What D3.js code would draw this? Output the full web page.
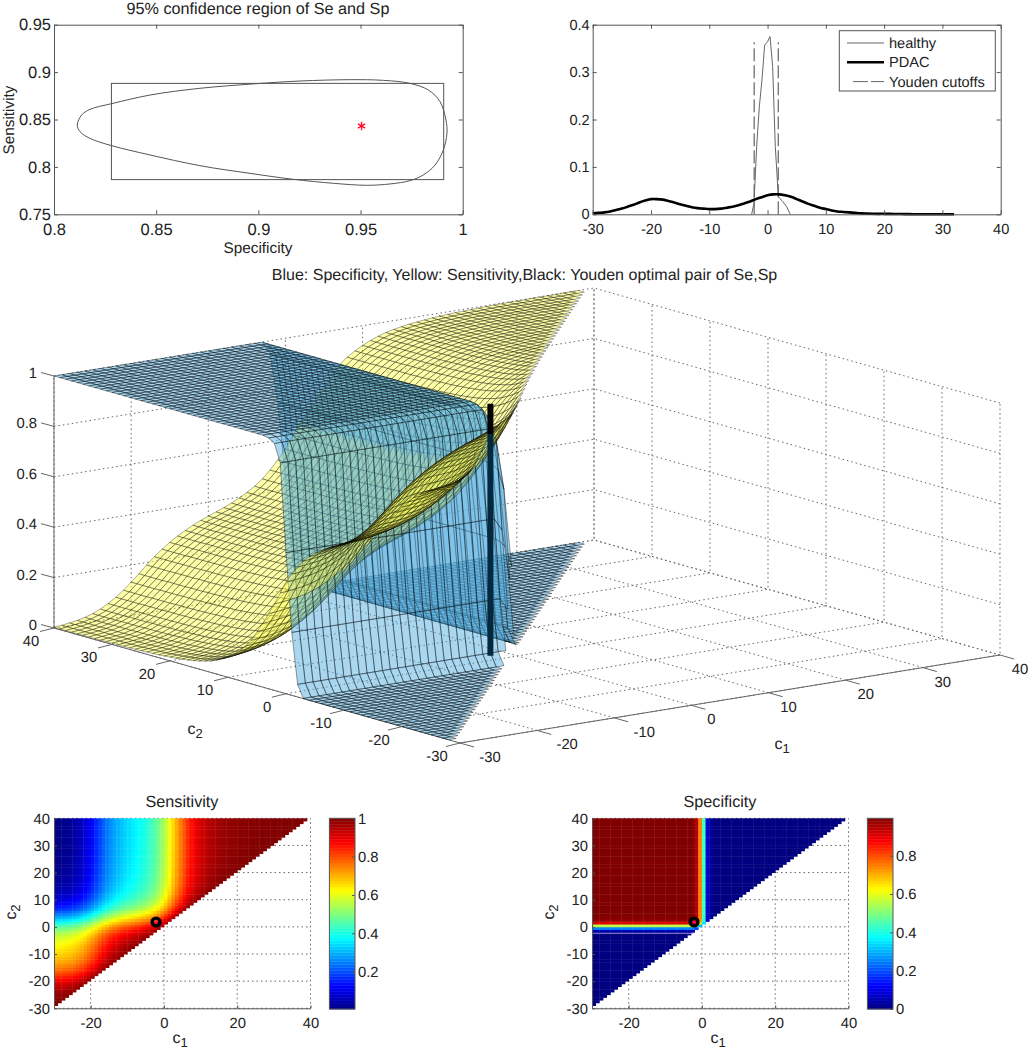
<!DOCTYPE html>
<html>
<head>
<meta charset="utf-8">
<script src="https://cdn.jsdelivr.net/npm/d3@7"></script>
<style>
    html, body { margin: 0; padding: 0; background: #fff; }
    text { font-family: 'Liberation Sans', Arial, sans-serif; fill: #222; text-rendering: geometricPrecision; }
    .domain, .tick line { stroke: #555; }
    .tick text { fill: #222; }
    .dotted { stroke: #666; stroke-width: 1; stroke-dasharray: 1.5 3; fill: none; }
</style>
</head>
<body>
<div class="visualisation"></div>
<script>
const svgWidth = 1032;
const svgHeight = 1050;

// confidence region, [specificity, sensitivity]
const regionSp = [0.8114, 0.8135, 0.8176, 0.8282, 0.847, 0.8714, 0.8992, 0.9204, 0.9449, 0.9612, 0.9742, 0.9832, 0.9889, 0.9918, 0.9923, 0.9905, 0.9865, 0.9807, 0.9742, 0.9644, 0.953, 0.9367, 0.9171, 0.8959, 0.8714, 0.847, 0.8282, 0.8176, 0.8127];
const regionSe = [0.8442, 0.8547, 0.8607, 0.8667, 0.8758, 0.8829, 0.8878, 0.8906, 0.892, 0.8913, 0.8881, 0.8811, 0.8688, 0.8495, 0.8354, 0.8178, 0.802, 0.7915, 0.7855, 0.782, 0.7806, 0.7827, 0.7869, 0.7932, 0.8013, 0.8126, 0.8224, 0.8301, 0.8372];
const boxSp = [0.8281, 0.9907];
const boxSe = [0.7866, 0.8881];
const pointSp = 0.9505;
const pointSe = 0.8432;

// densities
const healthyX = [-2.73, -2.33, -1.87, -1.41, -0.96, -0.5, 0, 0.42, 0.87, 1.33, 1.85, 2.6, 3.28, 3.9];
const healthyY = [0, 0.023, 0.143, 0.227, 0.283, 0.357, 0.364, 0.375, 0.312, 0.143, 0.037, 0.027, 0.016, 0];
const pdacX = d3.range(-30, 33);
const pdacY = [0.002, 0.003, 0.004, 0.006, 0.009, 0.012, 0.016, 0.02, 0.025, 0.029, 0.032, 0.032, 0.031, 0.028, 0.025, 0.021, 0.018, 0.015, 0.013, 0.012, 0.011, 0.011, 0.012, 0.014, 0.016, 0.019, 0.023, 0.027, 0.032, 0.036, 0.04, 0.042, 0.042, 0.04, 0.037, 0.032, 0.027, 0.022, 0.018, 0.014, 0.011, 0.008, 0.006, 0.005, 0.004, 0.003, 0.002, 0.0015, 0.0012, 0.001, 0.001, 0.0008, 0.0007, 0.0005, 0.0004, 0.0002, 0.0002, 0.0001, 0.0001, 0.0001, 0.0001, 0.0001, 0];
const cutoffs = [-2.3, 1.83];
const cutoffTop = 0.363;

// cumulative shares at c = -30..40
const cutGrid = d3.range(-30, 41);
const pdacCdf = [0.003, 0.006, 0.01, 0.015, 0.022, 0.032, 0.045, 0.062, 0.082, 0.105, 0.132, 0.16, 0.19, 0.218, 0.243, 0.265, 0.285, 0.302, 0.318, 0.332, 0.344, 0.356, 0.368, 0.381, 0.396, 0.413, 0.433, 0.457, 0.487, 0.522, 0.56, 0.61, 0.66, 0.705, 0.75, 0.79, 0.83, 0.86, 0.885, 0.905, 0.922, 0.936, 0.948, 0.958, 0.965, 0.971, 0.976, 0.98, 0.983, 0.986, 0.988, 0.99, 0.992, 0.993, 0.994, 0.995, 0.996, 0.997, 0.997, 0.998, 0.998, 0.998, 0.999, 0.999, 0.999, 0.999, 1, 1, 1, 1, 1];
const healthyCdf = [0, 0, 0, 0, 0, 0, 0, 0, 0, 0, 0, 0, 0, 0, 0, 0, 0, 0, 0, 0, 0, 0, 0, 0, 0, 0, 0, 0.001, 0.05, 0.25, 0.56, 0.91, 0.98, 0.995, 1, 1, 1, 1, 1, 1, 1, 1, 1, 1, 1, 1, 1, 1, 1, 1, 1, 1, 1, 1, 1, 1, 1, 1, 1, 1, 1, 1, 1, 1, 1, 1, 1, 1, 1, 1, 1];
const optimalC1 = -2.15;
const optimalC2 = 1.8;

// tick labels
const regionXTicks = [0.8, 0.85, 0.9, 0.95, 1];
const regionYTicks = [0.75, 0.8, 0.85, 0.9, 0.95];
const densityXTicks = [-30, -20, -10, 0, 10, 20, 30, 40];
const densityYTicks = [0, 0.1, 0.2, 0.3, 0.4];
const cutTicks = [-30, -20, -10, 0, 10, 20, 30, 40];
const zTicks = [0, 0.2, 0.4, 0.6, 0.8, 1];
const mapXTicks = [-20, 0, 20, 40];
const mapYTicks = [-30, -20, -10, 0, 10, 20, 30, 40];
const seBarTicks = [0.2, 0.4, 0.6, 0.8, 1];
const spBarTicks = [0, 0.2, 0.4, 0.6, 0.8];

// jet colormap
const jet = d3.scaleLinear()
    .domain([0, 0.125, 0.375, 0.625, 0.875, 1])
    .range(['#000080', '#0000ff', '#00ffff', '#ffff00', '#ff0000', '#800000'])
    .clamp(true);

const sensitivity = (i, j) => Math.min(1, 1 - (pdacCdf[j] - pdacCdf[i]));
const specificity = (i, j) => Math.max(0, healthyCdf[j] - healthyCdf[i]);

const svg = d3
    .select('.visualisation')
    .append('svg')
    .attr('width', svgWidth)
    .attr('height', svgHeight)
    .attr('viewBox', `0 0 ${svgWidth} ${svgHeight}`)
    .style('display', 'block');

// framed 2d axes with inward ticks
function frame(g, x, y, xTicks, yTicks, fontSize, padX) {
    const [x0, x1] = x.range();
    const [y0, y1] = y.range();
    const fmt = (d) => `${d}`;
    g.append('g').attr('transform', `translate(0,${y0})`)
        .call(d3.axisBottom(x).tickValues(xTicks).tickSize(-4).tickSizeOuter(0).tickPadding(padX).tickFormat(fmt));
    g.append('g').attr('transform', `translate(${x0},0)`)
        .call(d3.axisLeft(y).tickValues(yTicks).tickSize(-4).tickSizeOuter(0).tickPadding(3).tickFormat(fmt));
    g.append('g').attr('transform', `translate(0,${y1})`)
        .call(d3.axisTop(x).tickValues(xTicks).tickSize(-4).tickSizeOuter(0).tickFormat(''));
    g.append('g').attr('transform', `translate(${x1},0)`)
        .call(d3.axisRight(y).tickValues(yTicks).tickSize(-4).tickSizeOuter(0).tickFormat(''));
    g.selectAll('.tick text').attr('font-size', fontSize).attr('font-family', "'Liberation Sans', Arial, sans-serif");
}

function label(x, y, txt, size, rotate) {
    const t = svg.append('text')
        .attr('text-anchor', 'middle')
        .attr('font-size', size)
        .attr('transform', `translate(${x},${y})${rotate ? ' rotate(-90)' : ''}`)
        .text(txt);
    return t;
}

// c with a subscript
function subLabel(x, y, sub, size, rotate) {
    const t = label(x, y, 'c', size, rotate);
    t.append('tspan').attr('dy', 4).attr('font-size', size - 3).text(sub);
    return t;
}

// ---- confidence region ----
const regionGroup = svg.append('g');
const xRegion = d3.scaleLinear().domain([0.8, 1]).range([54, 462.7]);
const yRegion = d3.scaleLinear().domain([0.75, 0.95]).range([214.3, 24.7]);

regionGroup.append('rect')
    .attr('x', xRegion(boxSp[0]))
    .attr('y', yRegion(boxSe[1]))
    .attr('width', xRegion(boxSp[1]) - xRegion(boxSp[0]))
    .attr('height', yRegion(boxSe[0]) - yRegion(boxSe[1]))
    .attr('fill', 'none')
    .attr('stroke', '#555');

regionGroup.append('path')
    .attr('d', d3.line().x((d) => xRegion(d)).y((d, i) => yRegion(regionSe[i])).curve(d3.curveCatmullRomClosed)(regionSp))
    .attr('fill', 'none')
    .attr('stroke', '#555');

regionGroup.append('path')
    .attr('d', d3.symbol(d3.symbolAsterisk, 50)())
    .attr('transform', `translate(${xRegion(pointSp)},${yRegion(pointSe)})`)
    .attr('stroke', '#ff0a28')
    .attr('stroke-width', 1.3)
    .attr('fill', 'none');

frame(regionGroup, xRegion, yRegion, regionXTicks, regionYTicks, 16.5, 9);
label(258, 14, '95% confidence region of Se and Sp', 16.2);
label(258, 253, 'Specificity', 15.3);
label(14, 120, 'Sensitivity', 15.3, true);

// ---- densities ----
const densityGroup = svg.append('g');
const xDensity = d3.scaleLinear().domain([-30, 40]).range([592.7, 1000.7]);
const yDensity = d3.scaleLinear().domain([0, 0.4]).range([214.3, 24.7]);
const densityLine = d3.line().x((d) => xDensity(d[0])).y((d) => yDensity(d[1]));

cutoffs.forEach((c) => {
    densityGroup.append('line')
        .attr('x1', xDensity(c)).attr('x2', xDensity(c))
        .attr('y1', yDensity(0)).attr('y2', yDensity(cutoffTop))
        .attr('stroke', '#444')
        .attr('stroke-dasharray', '13 4');
});

densityGroup.append('path')
    .attr('d', densityLine(d3.zip(healthyX, healthyY)))
    .attr('fill', 'none')
    .attr('stroke', '#666');

densityGroup.append('path')
    .attr('d', densityLine.curve(d3.curveCatmullRom)(d3.zip(pdacX, pdacY)))
    .attr('fill', 'none')
    .attr('stroke', '#000')
    .attr('stroke-width', 2.6);

frame(densityGroup, xDensity, yDensity, densityXTicks, densityYTicks, 14.6, 9);

const legendGroup = densityGroup.append('g');
legendGroup.append('rect')
    .attr('x', 839.3).attr('y', 30.7).attr('width', 156).attr('height', 60.3)
    .attr('fill', '#fff').attr('stroke', '#555');
const legendNames = ['healthy', 'PDAC', 'Youden cutoffs'];
const legendStroke = ['#666', '#000', '#666'];
const legendWidth = [1, 2.6, 1];
const legendDash = [null, null, '15 3'];
const legendRow = legendGroup.selectAll('g').data(legendNames).join('g')
    .attr('transform', (d, i) => `translate(0,${43 + i * 19.3})`);
legendRow.append('line')
    .attr('x1', (d, i) => (i === 2 ? 853 : 847)).attr('x2', 884)
    .attr('stroke', (d, i) => legendStroke[i])
    .attr('stroke-width', (d, i) => legendWidth[i])
    .attr('stroke-dasharray', (d, i) => legendDash[i]);
legendRow.append('text')
    .attr('x', 889).attr('y', 5)
    .attr('font-size', 14.6)
    .text((d) => d);

// ---- 3d surfaces ----
const c1ToX = d3.scaleLinear().domain([-30, 40]).range([0, 540]);
const c1ToY = d3.scaleLinear().domain([-30, 40]).range([0, -88]);
const c2ToX = d3.scaleLinear().domain([-30, 40]).range([460, 54]);
const c2ToY = d3.scaleLinear().domain([-30, 40]).range([743, 628]);
const zToY = d3.scaleLinear().domain([0, 1]).range([0, -252]);
const project = (c1, c2, z) => [c1ToX(c1) + c2ToX(c2), c1ToY(c1) + c2ToY(c2) + zToY(z)];

const grid3d = svg.append('g');

// z lines round the two back walls
zTicks.forEach((z) => {
    grid3d.append('path').attr('class', 'dotted')
        .attr('d', d3.line()([project(-30, 40, z), project(40, 40, z), project(40, -30, z)]));
});
cutTicks.forEach((c) => {
    grid3d.append('path').attr('class', 'dotted')
        .attr('d', d3.line()([project(c, -30, 0), project(c, 40, 0), project(c, 40, 1)]));
    grid3d.append('path').attr('class', 'dotted')
        .attr('d', d3.line()([project(-30, c, 0), project(40, c, 0), project(40, c, 1)]));
});

// box edges and ticks
const axisColor = '#666';
const axisLine = (a, b) => grid3d.append('line')
    .attr('x1', a[0]).attr('y1', a[1]).attr('x2', b[0]).attr('y2', b[1])
    .attr('stroke', axisColor);
axisLine(project(-30, 40, 0), project(-30, 40, 1));
axisLine(project(-30, 40, 0), project(-30, -30, 0));
axisLine(project(-30, -30, 0), project(40, -30, 0));

const faces = [];
const addFaces = (value, fill, opacity, edge, edgeWidth, bias) => {
    cutGrid.forEach((c1, i) => {
        cutGrid.forEach((c2, j) => {
            if (i >= cutGrid.length - 1 || j >= cutGrid.length - 1 || j < i + 2) return;
            const corners = [[i, j], [i + 1, j], [i + 1, j + 1], [i, j + 1]];
            const zs = corners.map((k) => value(k[0], k[1]));
            faces.push({
                pts: corners.map((k, n) => project(cutGrid[k[0]], cutGrid[k[1]], zs[n])),
                away: 0.6 * (c1 + 30) / 70 + 0.8 * (c2 + 30) / 70 - 0.0825 * d3.mean(zs) - bias,
                fill,
                opacity,
                edge,
                edgeWidth,
            });
        });
    });
};
addFaces(specificity, '#55afe1', 0.5, 0.65, 0.6, 0);
// yellow sits just in front of the blue wall it nearly touches
addFaces(sensitivity, '#ffff55', 0.5, 0.6, 0.55, 0.05);
faces.sort((a, b) => b.away - a.away);

const faceLine = d3.line();
svg.append('g').attr('class', 'surfaces')
    .selectAll('path')
    .data(faces)
    .join('path')
    .attr('d', (d) => `${faceLine(d.pts)}Z`)
    .attr('fill', (d) => d.fill)
    .attr('fill-opacity', (d) => d.opacity)
    .attr('stroke', '#000')
    .attr('stroke-opacity', (d) => d.edge)
    .attr('stroke-width', (d) => d.edgeWidth);

// optimal pair bar
const barBase = project(optimalC1, optimalC2, 0);
const barMid = project(optimalC1, optimalC2, 0.88);
const barTop = project(optimalC1, optimalC2, 1);
svg.append('line')
    .attr('x1', barBase[0]).attr('y1', barBase[1]).attr('x2', barMid[0]).attr('y2', barMid[1])
    .attr('stroke', '#04293f').attr('stroke-width', 6);
svg.append('line')
    .attr('x1', barMid[0]).attr('y1', barMid[1]).attr('x2', barTop[0]).attr('y2', barTop[1])
    .attr('stroke', '#000').attr('stroke-width', 6);

// 3d ticks and labels
const tickLine = (a, dx, dy) => svg.append('line')
    .attr('x1', a[0]).attr('y1', a[1]).attr('x2', a[0] + dx).attr('y2', a[1] + dy)
    .attr('stroke', axisColor);
zTicks.forEach((z) => {
    const p = project(-30, 40, z);
    tickLine(p, -13, -3.5);
    label(p[0] - 17, p[1] + 2, `${z}`, 14.8).attr('text-anchor', 'end');
});
cutTicks.forEach((c) => {
    const a = project(-30, c, 0);
    tickLine(a, -14, 3.5);
    label(a[0] + (c === 0 ? -19 : -23), a[1] + 18, `${c}`, 14.8);
    const b = project(c, -30, 0);
    tickLine(b, 14, 4);
    label(b[0] + (c < 0 ? 30 : 20), b[1] + 19, `${c}`, 14.8);
});
subLabel(195, 734, '2', 16);
subLabel(782, 749, '1', 16);
label(524.5, 280, 'Blue: Specificity, Yellow: Sensitivity,Black: Youden optimal pair of Se,Sp', 16.05);

// ---- heat maps ----
function heatMap(opts) {
    const g = svg.append('g');
    const x = d3.scaleLinear().domain([-30, 40]).range([opts.left, opts.left + 256.5]);
    const y = d3.scaleLinear().domain([-30, 40]).range([1008.3, 818.3]);

    mapXTicks.forEach((t) => {
        g.append('line').attr('class', 'dotted')
            .attr('x1', x(t)).attr('x2', x(t)).attr('y1', y(-30)).attr('y2', y(40));
    });
    mapYTicks.forEach((t) => {
        g.append('line').attr('class', 'dotted')
            .attr('x1', x(-30)).attr('x2', x(40)).attr('y1', y(t)).attr('y2', y(t));
    });

    const cells = [];
    cutGrid.slice(0, -1).forEach((c1, i) => {
        cutGrid.slice(0, -1).forEach((c2, j) => {
            if (j > i) cells.push({ c1, c2, v: opts.value(i, j) });
        });
    });
    g.selectAll('rect.cell')
        .data(cells)
        .join('rect')
        .attr('class', 'cell')
        .attr('x', (d) => x(d.c1))
        .attr('y', (d) => y(d.c2 + 1))
        .attr('width', x(1) - x(0) + 0.4)
        .attr('height', y(0) - y(1) + 0.4)
        .attr('fill', (d) => jet(d.v));

    if (opts.streak !== undefined) {
        g.append('line')
            .attr('x1', x(-30)).attr('x2', x(opts.streak))
            .attr('y1', y(opts.streak)).attr('y2', y(opts.streak))
            .attr('stroke', '#a0a0d8').attr('stroke-width', 0.8);
    }

    const axisFmt = (d) => `${d}`;
    g.append('g').attr('transform', `translate(0,${y(-30)})`)
        .call(d3.axisBottom(x).tickValues(mapXTicks).tickSize(-3).tickSizeOuter(0).tickPadding(9).tickFormat(axisFmt));
    g.append('g').attr('transform', `translate(${x(-30)},0)`)
        .call(d3.axisLeft(y).tickValues(mapYTicks).tickSize(-3).tickSizeOuter(0).tickPadding(4).tickFormat(axisFmt));
    g.selectAll('.tick text').attr('font-size', 14.8);

    // optimal pair marker
    g.append('circle')
        .attr('cx', x(optimalC1)).attr('cy', y(optimalC2)).attr('r', 3.9)
        .attr('fill', 'none').attr('stroke', '#000').attr('stroke-width', 3.4);
    g.append('circle')
        .attr('cx', x(optimalC1)).attr('cy', y(optimalC2)).attr('r', 1)
        .attr('fill', '#ff00ff');

    // colour bar
    const barLeft = opts.left + 275.4;
    const barWidth = 25.6;
    const yBar = d3.scaleLinear().domain(opts.barDomain).range([1009, 818.3]);
    const steps = d3.range(64).map((k) => opts.barDomain[0] + (k / 64) * (opts.barDomain[1] - opts.barDomain[0]));
    const stepSize = (opts.barDomain[1] - opts.barDomain[0]) / 64;
    g.selectAll('rect.step')
        .data(steps)
        .join('rect')
        .attr('class', 'step')
        .attr('x', barLeft)
        .attr('width', barWidth)
        .attr('y', (d) => yBar(d + stepSize))
        .attr('height', yBar(0) - yBar(stepSize) + 0.4)
        .attr('fill', (d) => jet(d + stepSize / 2));
    g.append('rect')
        .attr('x', barLeft).attr('y', 818.3).attr('width', barWidth).attr('height', 190.7)
        .attr('fill', 'none').attr('stroke', '#555');
    g.append('g').attr('transform', `translate(${barLeft + barWidth},0)`)
        .call(d3.axisRight(yBar).tickValues(opts.barTicks).tickSize(-3).tickSizeOuter(0).tickPadding(3).tickFormat(axisFmt))
        .call((s) => s.select('.domain').remove())
        .selectAll('.tick text').attr('font-size', 14.8);

    label(opts.left + 128, 807, opts.title, 16.2);
    subLabel(opts.left + 126, 1043, '1', 16);
    subLabel(opts.left - 38, 912, '2', 16, true);
}

heatMap({
    title: 'Sensitivity',
    left: 54,
    value: sensitivity,
    barDomain: [0.005, 1],
    barTicks: seBarTicks,
});
heatMap({
    title: 'Specificity',
    left: 592,
    value: specificity,
    barDomain: [0, 0.995],
    barTicks: spBarTicks,
    streak: -2.4,
});
</script>
</body>
</html>
